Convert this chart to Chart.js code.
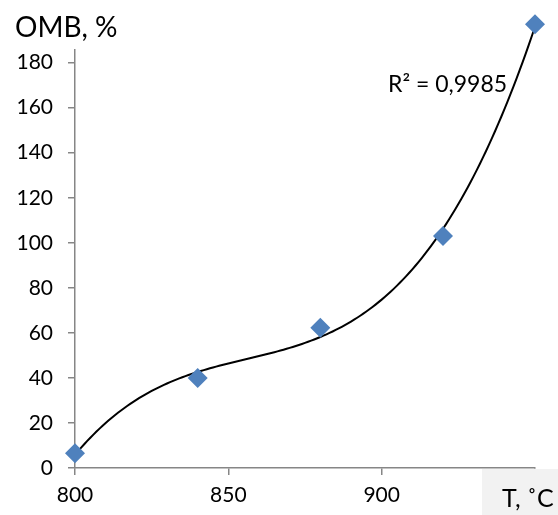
<!DOCTYPE html>
<html>
<head>
<meta charset="utf-8">
<script src="https://cdn.jsdelivr.net/npm/chart.js@4/dist/chart.umd.min.js"></script>
<style>
  html, body { margin: 0; padding: 0; background: #fff; }
  #wrap { position: relative; width: 558px; height: 515px; }
</style>
</head>
<body>
<div id="wrap"><canvas id="c" width="558" height="515"></canvas></div>
<script>
// Temperature, °C
const temperatures = [800, 840, 880, 920, 950];
// OMB, %
const ombValues = [6.5, 40, 62.3, 103, 197];
// Axis tick labels
const yTicks = [0, 20, 40, 60, 80, 100, 120, 140, 160, 180];
const xTicks = [800, 850, 900, 950];
const rSquaredText = 'R² = 0,9985';
const yTitle = 'OMB, %';
const xTitle = 'T, ˚C';

const FONT = 'Lato, "Open Sans", sans-serif';

// Cubic least-squares trend (polynomial order 3), solved on a centred variable
function cubicFit(xs, ys) {
  const c = 880, s = 50;
  const n = 4;
  const A = Array.from({ length: n }, () => new Array(n + 1).fill(0));
  xs.forEach((x, k) => {
    const t = (x - c) / s;
    const pw = [1, t, t * t, t * t * t];
    for (let i = 0; i < n; i++) {
      for (let j = 0; j < n; j++) A[i][j] += pw[i] * pw[j];
      A[i][n] += pw[i] * ys[k];
    }
  });
  for (let i = 0; i < n; i++) {
    let p = i;
    for (let r = i + 1; r < n; r++) if (Math.abs(A[r][i]) > Math.abs(A[p][i])) p = r;
    [A[i], A[p]] = [A[p], A[i]];
    for (let r = 0; r < n; r++) {
      if (r === i) continue;
      const f = A[r][i] / A[i][i];
      for (let j = i; j <= n; j++) A[r][j] -= f * A[i][j];
    }
  }
  const coef = A.map((row, i) => row[n] / row[i]);
  return x => {
    const t = (x - c) / s;
    return coef[0] + coef[1] * t + coef[2] * t * t + coef[3] * t * t * t;
  };
}

const trend = cubicFit(temperatures, ombValues);
const trendPoints = [];
for (let x = temperatures[0]; x <= temperatures[temperatures.length - 1]; x += 1) {
  trendPoints.push({ x: x, y: trend(x) });
}

// Markers lying above the value axis are still drawn (the chart skips them by default)
const overflowMarkers = {
  id: 'overflowMarkers',
  afterDatasetsDraw(chart) {
    const meta = chart.getDatasetMeta(1);
    const area = chart.chartArea;
    chart.ctx.save();
    meta.data.forEach(el => {
      if (el.y < area.top || el.x > area.right) el.draw(chart.ctx);
    });
    chart.ctx.restore();
  }
};

const overlayText = {
  id: 'overlayText',
  afterDraw(chart) {
    const ctx = chart.ctx;
    ctx.save();
    ctx.fillStyle = '#000';
    ctx.textBaseline = 'alphabetic';
    ctx.textAlign = 'left';
    ctx.font = '28px ' + FONT;
    ctx.fillText(yTitle, 15, 37);
    ctx.font = '23px ' + FONT;
    ctx.fillText(rSquaredText, 388, 92);
    // x-axis title box
    ctx.fillStyle = '#f2f2f2';
    ctx.fillRect(482, 469, 76, 46);
    ctx.fillStyle = '#000';
    ctx.font = '25px ' + FONT;
    ctx.fillText(xTitle, 502, 507);
    ctx.restore();
  }
};

new Chart(document.getElementById('c'), {
  type: 'scatter',
  data: {
    datasets: [
      {
        label: 'trend',
        type: 'line',
        data: trendPoints,
        borderColor: '#000',
        borderWidth: 2,
        pointRadius: 0,
        fill: false,
        clip: false,
        order: 2
      },
      {
        label: 'OMB',
        data: temperatures.map((t, i) => ({ x: t, y: ombValues[i] })),
        pointStyle: 'rectRot',
        pointRadius: 10,
        pointHoverRadius: 10,
        backgroundColor: '#4f81bd',
        borderColor: '#4f81bd',
        borderWidth: 0,
        clip: false,
        order: 1
      }
    ]
  },
  options: {
    responsive: false,
    animation: false,
    devicePixelRatio: 1,
    layout: { padding: { top: 50, right: 23, left: 0, bottom: 0 } },
    plugins: { legend: { display: false }, tooltip: { enabled: false } },
    scales: {
      x: {
        type: 'linear',
        min: 800,
        max: 950,
        afterBuildTicks(scale) { scale.ticks = xTicks.map(v => ({ value: v })); },
        afterFit(scale) {
          scale.height = 47;
          scale.paddingLeft = 0;
          scale.paddingRight = 0;
        },
        border: { color: '#868686', width: 1.5 },
        grid: { drawOnChartArea: false, drawTicks: true, tickLength: 7, color: '#868686', lineWidth: 1.5 },
        ticks: { color: '#000', font: { family: FONT, size: 21 }, padding: 8, maxRotation: 0 }
      },
      y: {
        type: 'linear',
        min: 0,
        max: 185.6,
        afterBuildTicks(scale) { scale.ticks = yTicks.map(v => ({ value: v })); },
        afterFit(scale) { scale.width = 75; },
        border: { color: '#868686', width: 1.5 },
        grid: { drawOnChartArea: false, drawTicks: true, tickLength: 7, color: '#868686', lineWidth: 1.5 },
        ticks: { color: '#000', font: { family: FONT, size: 21 }, padding: 15 }
      }
    }
  },
  plugins: [overflowMarkers, overlayText]
});
</script>
</body>
</html>
